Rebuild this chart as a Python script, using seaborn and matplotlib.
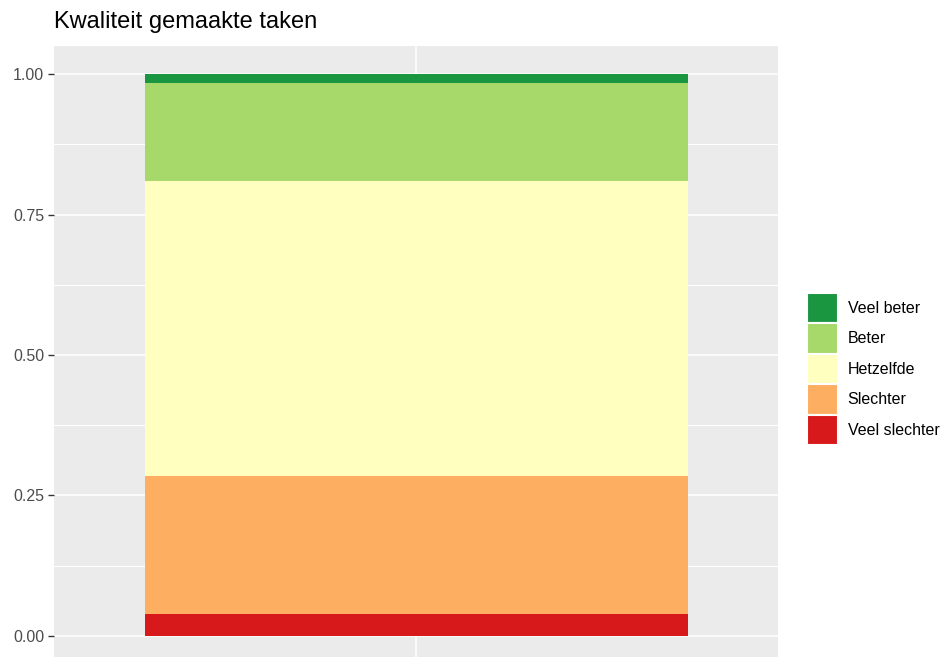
import numpy as np
import pandas as pd
import seaborn as sns
import matplotlib.pyplot as plt
from matplotlib.patches import Patch

# proportions, bottom to top
categories = ["Veel slechter", "Slechter", "Hetzelfde", "Beter", "Veel beter"]
shares = [0.039, 0.246, 0.525, 0.174, 0.016]
colors = ["#D7191C", "#FDAE61", "#FFFFBF", "#A6D96A", "#1A9641"]
y_ticks = [0.00, 0.25, 0.50, 0.75, 1.00]
y_tick_labels = ["0.00", "0.25", "0.50", "0.75", "1.00"]

df = pd.DataFrame({"categorie": categories, "aandeel": shares, "kleur": colors})
df["top"] = df["aandeel"].cumsum()
df["x"] = ""

sns.set_style("darkgrid", {"axes.facecolor": "#EBEBEB", "grid.color": "white"})
plt.rcParams["font.family"] = ["Liberation Sans", "DejaVu Sans"]

fig = plt.figure(figsize=(9.48, 6.57), dpi=100)
ax = fig.add_axes([54 / 948, -7 / 657, 724 / 948, 618 / 657])

# draw cumulative bars from the top down so each one covers the next
for _, row in df.iloc[::-1].iterrows():
    sns.barplot(x=[row["x"]], y=[row["top"]], color=row["kleur"], width=0.9,
                saturation=1, ax=ax, zorder=3, linewidth=0)

ax.set_xlim(-0.6, 0.6)
ax.set_ylim(-0.05, 1.05)
ax.set_yticks(y_ticks)
ax.set_yticklabels(y_tick_labels)
ax.set_yticks([0.125, 0.375, 0.625, 0.875], minor=True)
ax.grid(True, which="major", color="white", linewidth=1.1)
ax.grid(True, which="minor", axis="y", color="white", linewidth=0.8)
ax.tick_params(axis="y", which="major", left=True, length=4, width=1,
               color="#333333", labelcolor="#4D4D4D", labelsize=11.5, pad=3)
ax.tick_params(axis="y", which="minor", left=False)
ax.tick_params(axis="x", bottom=True, length=4, color="#333333")
ax.set_xlabel("")
ax.set_ylabel("")
for s in ax.spines.values():
    s.set_visible(False)

fig.text(54 / 948, 1 - 22 / 657, "Kwaliteit gemaakte taken", fontsize=17,
         color="black", va="center", ha="left")

handles = [Patch(facecolor=c, edgecolor="white", linewidth=1.5) for c in colors[::-1]]
leg = fig.legend(handles, categories[::-1], loc="center left",
                 bbox_to_anchor=(807 / 948, 1 - 369 / 657), frameon=False,
                 fontsize=11.5, handlelength=1.95, handleheight=2.57,
                 labelspacing=0.0, handletextpad=0.6, borderpad=0.0,
                 borderaxespad=0.0)
for t in leg.get_texts():
    t.set_color("black")

fig.savefig("out.png", dpi=100)
